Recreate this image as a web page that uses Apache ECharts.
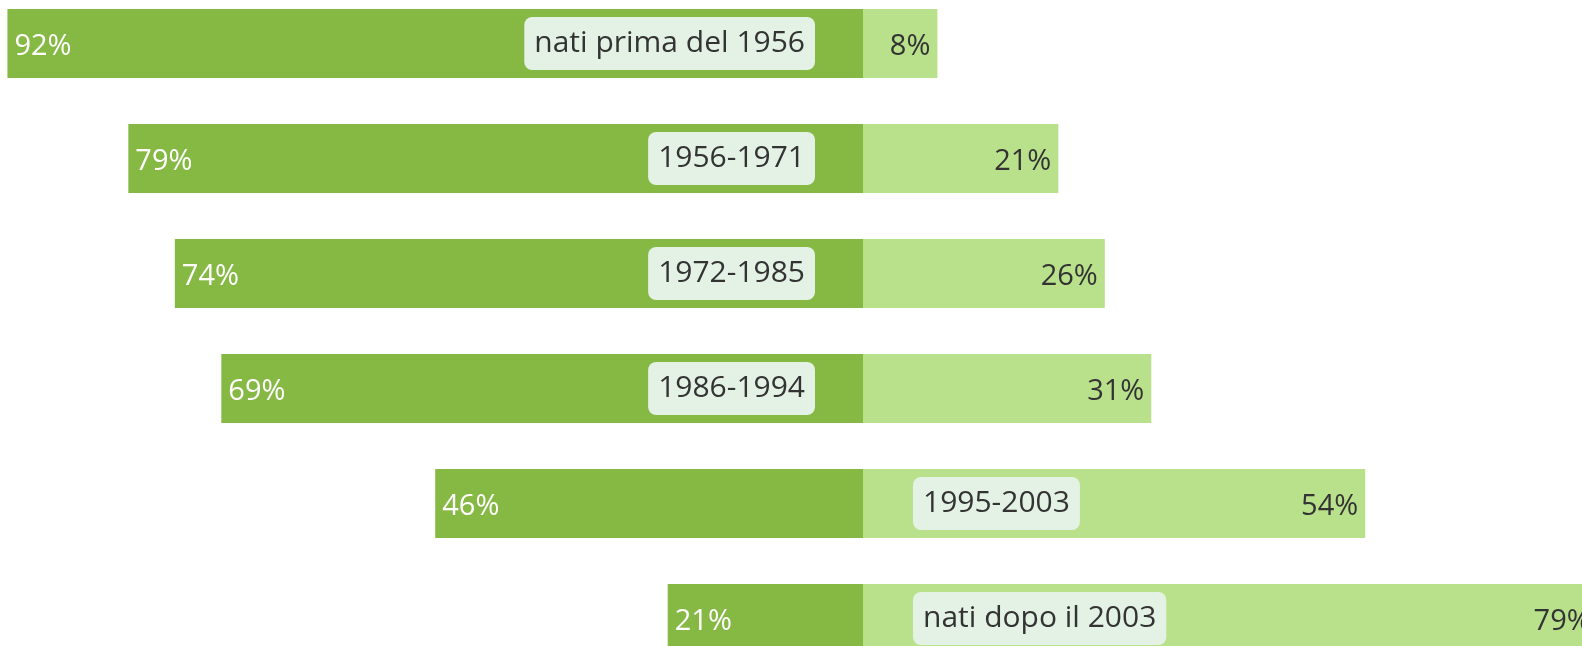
<!DOCTYPE html>
<html>
<head>
<meta charset="utf-8">
<script src="https://cdn.jsdelivr.net/npm/echarts@6/dist/echarts.min.js"></script>
<style>
  html, body { margin: 0; padding: 0; background: #fff; overflow: hidden; width: 1582px; height: 646px; }
  /* il grafico originale è più grande della finestra e viene tagliato */
  #chart { position: absolute; left: 0; top: -14px; width: 1640px; height: 690px; }
</style>
</head>
<body>
<div id="chart"></div>
<script>
// fasce di nascita, dall'alto in basso
const categories = ['nati prima del 1956', '1956-1971', '1972-1985', '1986-1994', '1995-2003', 'nati dopo il 2003'];
const leftValues = [92, 79, 74, 69, 46, 21];
const rightValues = [8, 21, 26, 31, 54, 79];

const DARK = '#86b844';
const LIGHT = '#b9e08b';
const FONT = 'Open Sans';

const chart = echarts.init(document.getElementById('chart'));

// etichetta della fascia sul lato più lungo
const tagData = categories.map((c, i) => {
    const onLeft = leftValues[i] >= rightValues[i];
    return {
        value: [0, c],
        label: {
            position: onLeft ? 'left' : 'right',
            distance: onLeft ? 48 : 50
        }
    };
});

const option = {
    animation: false,
    grid: { left: 0, right: 0, top: 0, bottom: 0, containLabel: false },
    xAxis: {
        type: 'value',
        min: -92.8,
        max: 83.55,
        show: false
    },
    yAxis: {
        type: 'category',
        data: categories,
        inverse: true,
        show: false
    },
    series: [
        {
            type: 'bar',
            barWidth: 69,
            barGap: '-100%',
            data: leftValues.map(v => -v),
            itemStyle: { color: DARK },
            label: {
                show: true,
                position: 'insideLeft',
                distance: 7,
                offset: [0, 3],
                color: '#ffffff',
                fontFamily: FONT,
                fontSize: 29,
                formatter: p => Math.abs(p.value) + '%'
            }
        },
        {
            type: 'bar',
            barWidth: 69,
            barGap: '-100%',
            data: rightValues,
            itemStyle: { color: LIGHT },
            label: {
                show: true,
                position: 'insideRight',
                distance: 7,
                offset: [0, 3],
                color: '#333333',
                fontFamily: FONT,
                fontSize: 29,
                formatter: '{c}%'
            }
        },
        {
            type: 'scatter',
            symbolSize: 0,
            data: tagData,
            z: 5,
            itemStyle: { opacity: 1 },
            label: {
                show: true,
                formatter: p => p.value[1],
                color: '#333333',
                fontFamily: FONT,
                fontSize: 30,
                lineHeight: 36,
                backgroundColor: '#e4f2e6',
                borderRadius: 8,
                padding: [10, 10, 7, 10]
            }
        }
    ]
};

chart.setOption(option);
</script>
</body>
</html>
